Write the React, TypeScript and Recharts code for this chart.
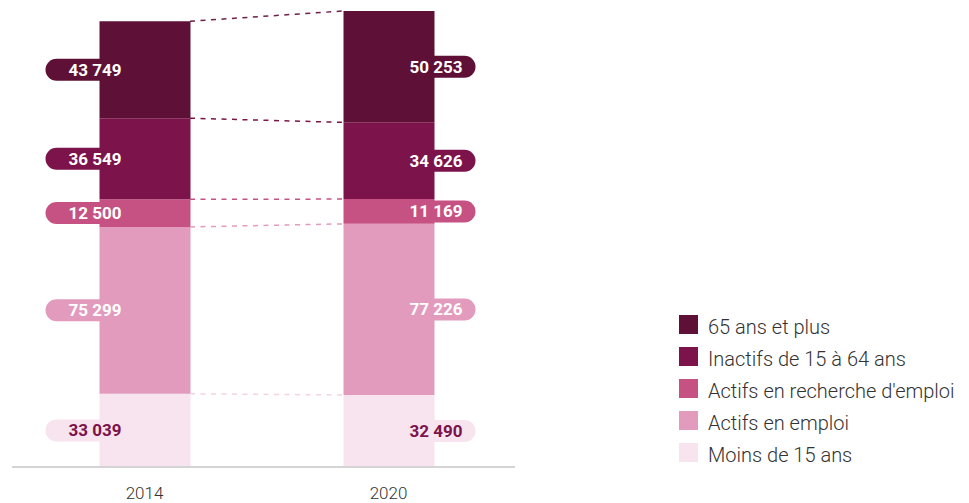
import React from 'react';
import { ComposedChart, Bar, Line, XAxis, YAxis, LabelList } from 'recharts';

const years = ['2014', '2020'];
const seriesNames = [
  'Moins de 15 ans',
  'Actifs en emploi',
  "Actifs en recherche d'emploi",
  'Inactifs de 15 à 64 ans',
  '65 ans et plus',
];
const moins15 = [33039, 32490];
const actifsEmploi = [75299, 77226];
const actifsRecherche = [12500, 11169];
const inactifs = [36549, 34626];
const plus65 = [43749, 50253];

const seriesColors = ['#f8e4ee', '#e29bbd', '#c65283', '#7c134b', '#5e1036'];
const dashColors = ['#f3d3e2', '#e29bbd', '#c65283', '#7c134b', '#6e2049'];
const labelTextColors = ['#7c134b', '#ffffff', '#ffffff', '#ffffff', '#ffffff'];
const seriesKeys = ['moins', 'emploi', 'recherche', 'inactifs', 'plus65'];
const seriesValues = [moins15, actifsEmploi, actifsRecherche, inactifs, plus65];

const BAR_SIZE = 91;

const data = years.map((year, i) => {
  const row: any = { year };
  let cum = 0;
  seriesKeys.forEach((k, s) => {
    row[k] = seriesValues[s][i];
    cum += seriesValues[s][i];
    row['c' + s] = cum;
  });
  return row;
});
const maxTotal = Math.max(...data.map((d: any) => d.c4));

const fmt = (v: number) => String(v).replace(/\B(?=(\d{3})+(?!\d))/g, ' ');

const makeLabel = (fill: string, textColor: string) => (props: any) => {
  const x = Number(props.x);
  const y = Number(props.y);
  const width = Number(props.width);
  const height = Number(props.height);
  const cy = y + height / 2;
  const ph = 22;
  let px: number, pw: number, tx: number;
  if (props.index === 0) {
    px = x - 54;
    pw = 74;
    tx = x - 4.5;
  } else {
    px = x + width - 20;
    pw = 61;
    tx = x + width + 1.5;
  }
  return (
    <g>
      <rect x={px} y={cy - ph / 2} width={pw} height={ph} rx={ph / 2} ry={ph / 2} fill={fill} />
      <text
        x={tx}
        y={cy}
        textAnchor="middle"
        dominantBaseline="central"
        fill={textColor}
        fontFamily="Roboto, sans-serif"
        fontWeight={700}
        fontSize={17}
      >
        {fmt(Number(props.value))}
      </text>
    </g>
  );
};

const makeEdgeDash = (color: string) => (props: any) => {
  const { index, cx, cy, points } = props;
  if (index !== 0 || !points || points.length < 2) return <g />;
  const p1 = points[1];
  return (
    <line
      x1={cx + BAR_SIZE / 2}
      y1={cy}
      x2={p1.x - BAR_SIZE / 2}
      y2={p1.y}
      stroke={color}
      strokeWidth={1.5}
      strokeDasharray="5 5.5"
      fill="none"
    />
  );
};

export default function App() {
  return (
    <div style={{ position: 'absolute', left: 0, top: 0, width: 969, height: 503, background: '#fff' }}>
      <ComposedChart
        width={969}
        height={503}
        data={data}
        margin={{ top: 11, right: 454, bottom: 0, left: 12 }}
      >
        <XAxis
          dataKey="year"
          axisLine={{ stroke: '#d4d4d4', strokeWidth: 2 }}
          tickLine={false}
          tickMargin={14}
          height={36}
          padding={{ left: 10.5, right: 4.5 }}
          tick={{ fill: '#333', fontSize: 17, fontFamily: 'Roboto, sans-serif', fontWeight: 300 }}
        />
        <YAxis hide domain={[0, maxTotal]} />
        {seriesKeys.map((k, s) => (
          <Line
            key={'l' + k}
            dataKey={'c' + s}
            stroke="none"
            strokeWidth={0}
            dot={makeEdgeDash(dashColors[s])}
            activeDot={false}
            legendType="none"
            isAnimationActive={false}
            zIndex={50}
          />
        ))}
        {seriesKeys.map((k, s) => (
          <Bar
            key={k}
            dataKey={k}
            stackId="a"
            fill={seriesColors[s]}
            barSize={BAR_SIZE}
            isAnimationActive={false}
            name={seriesNames[s]}
          >
            <LabelList dataKey={k} content={makeLabel(seriesColors[s], labelTextColors[s])} />
          </Bar>
        ))}
      </ComposedChart>
      <div style={{ position: 'absolute', left: 679, top: 315, fontFamily: 'Roboto, sans-serif', fontWeight: 300 }}>
        {seriesNames
          .map((n, s) => ({ n, c: seriesColors[s] }))
          .reverse()
          .map((item) => (
            <div key={item.n} style={{ display: 'flex', alignItems: 'center', height: 19, marginBottom: 13 }}>
              <div style={{ width: 19, height: 19, background: item.c, flex: 'none' }} />
              <span style={{ marginLeft: 10, fontSize: 20, color: '#333', lineHeight: '19px', whiteSpace: 'nowrap', position: 'relative', top: 3 }}>
                {item.n}
              </span>
            </div>
          ))}
      </div>
    </div>
  );
}
